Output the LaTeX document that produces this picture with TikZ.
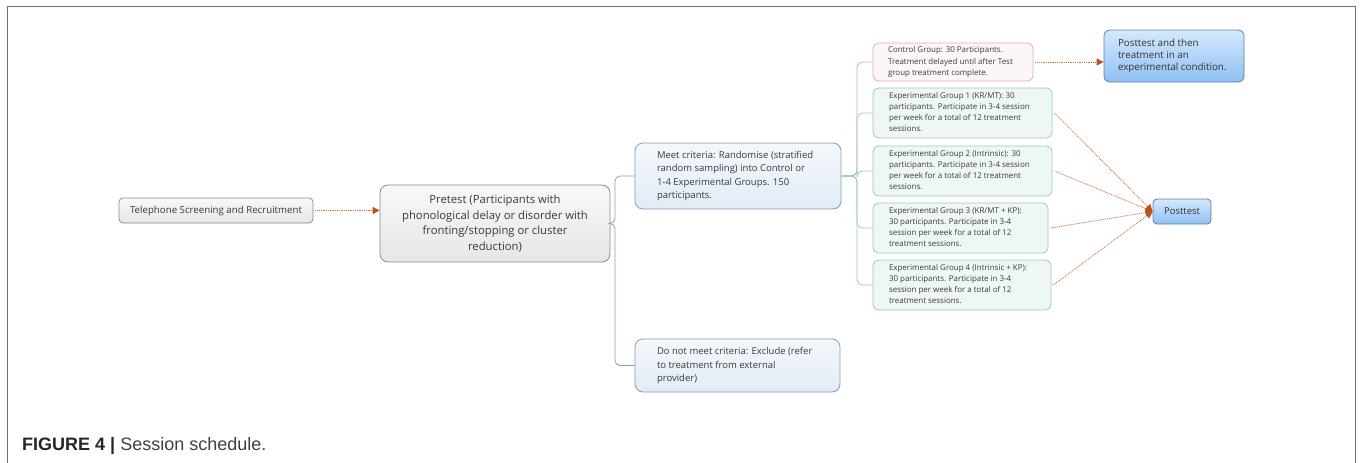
\documentclass[tikz,border=0pt]{standalone}
\usepackage{fontspec}
\setmainfont{Open Sans}
\newfontfamily\capfont{Liberation Sans}
\usetikzlibrary{arrows.meta}
\definecolor{txt}{HTML}{3A3A3A}
\definecolor{framec}{HTML}{707070}
\definecolor{grayd}{HTML}{8A8A8A}
\definecolor{grayt}{HTML}{F8F8F8}
\definecolor{grayb}{HTML}{E6E6E6}
\definecolor{bgd}{HTML}{7F9FBE}
\definecolor{bgt}{HTML}{F4F8FC}
\definecolor{bgb}{HTML}{E2EBF4}
\definecolor{pkd}{HTML}{E9A7B5}
\definecolor{pkf}{HTML}{FDF6F7}
\definecolor{gnd}{HTML}{9DCBB2}
\definecolor{gnf}{HTML}{EEF7F1}
\definecolor{ptd}{HTML}{5B7FA6}
\definecolor{ptt}{HTML}{D4E9FD}
\definecolor{ptb}{HTML}{8FC0F2}
\definecolor{arrc}{HTML}{C8703A}
\definecolor{tipc}{HTML}{C0501A}
\newcommand\boxtext[2]{\makebox[#1][l]{\begin{tabular}{@{}l@{}}#2\end{tabular}}}
\tikzset{
  base/.style={rectangle, inner xsep=0pt, inner ysep=0pt, text=txt, line width=0.8pt},
  graybox/.style={base, draw=grayd, top color=grayt, bottom color=grayb, align=center},
  bluebox/.style={base, draw=bgd, top color=bgt, bottom color=bgb, rounded corners=8pt,
    font=\fontsize{9.5}{13.5}\selectfont},
  pinkbox/.style={base, draw=pkd, fill=pkf, rounded corners=6pt, font=\fontsize{7.95}{11.3}\selectfont},
  greenbox/.style={base, draw=gnd, fill=gnf, rounded corners=6pt, font=\fontsize{7.95}{11}\selectfont},
  postbox/.style={base, draw=ptd, top color=ptt, bottom color=ptb, rounded corners=6pt, text=black!80},
  tree/.style={draw=bgd, line width=0.8pt, rounded corners=5pt},
  treeg/.style={draw=gnd, line width=0.8pt, rounded corners=6pt},
  treep/.style={draw=pkd, line width=0.8pt, rounded corners=6pt},
  dotarrow/.style={draw=arrc, line width=0.8pt, dash pattern=on 0.9pt off 0.9pt,
    -{Triangle[length=7pt,width=7pt,fill=tipc,color=tipc]}},
}
\begin{document}
\begin{tikzpicture}[x=1pt,y=-1pt]
\useasboundingbox (0,0) rectangle (1360,463);
% frame
\draw[framec, line width=1.5pt] (7.5,463) -- (7.5,6.5) -- (1355.5,6.5) -- (1355.5,463);

% nodes
\node[graybox, rounded corners=4pt, minimum width=194pt, minimum height=25pt,
  font=\fontsize{9.7}{13}\selectfont] (tel) at (216,210.5) {Telephone Screening and Recruitment};
\node[graybox, rounded corners=8pt, minimum width=230pt, minimum height=77pt,
  font=\fontsize{11.3}{15.5}\selectfont] (pre) at (495,223.5)
  {Pretest (Participants with\\phonological delay or disorder with\\fronting/stopping or cluster\\reduction)};
\node[bluebox, minimum width=206pt, minimum height=66pt] (meet) at (738,176)
  {\boxtext{162pt}{Meet criteria: Randomise (stratified\\random sampling) into Control or\\1-4 Experimental Groups. 150\\participants.}};
\node[bluebox, minimum width=205pt, minimum height=53pt] (dn) at (737.5,365.5)
  {\boxtext{161pt}{Do not meet criteria: Exclude (refer\\to treatment from external\\provider)}};
\node[pinkbox, minimum width=160pt, minimum height=38pt] (ctrl) at (953,62)
  {\boxtext{130pt}{Control Group: 30 Participants.\\Treatment delayed until after Test\\group treatment complete.}};
\node[greenbox, minimum width=179pt, minimum height=50pt] (e1) at (962.5,113)
  {\boxtext{147pt}{Experimental Group 1 (KR/MT): 30\\participants. Participate in 3-4 session\\per week for a total of 12 treatment\\sessions.}};
\node[greenbox, minimum width=179pt, minimum height=50pt] (e2) at (962.5,171)
  {\boxtext{147pt}{Experimental Group 2 (Intrinsic): 30\\participants. Participate in 3-4 session\\per week for a total of 12 treatment\\sessions.}};
\node[greenbox, minimum width=175pt, minimum height=50pt] (e3) at (960.5,228)
  {\boxtext{143pt}{Experimental Group 3 (KR/MT + KP):\\30 participants. Participate in 3-4\\session per week for a total of 12\\treatment sessions.}};
\node[greenbox, minimum width=178pt, minimum height=50pt] (e4) at (962,285)
  {\boxtext{146pt}{Experimental Group 4 (Intrinsic + KP):\\30 participants. Participate in 3-4\\session per week for a total of 12\\treatment sessions.}};
\node[postbox, minimum width=140pt, minimum height=52pt, font=\fontsize{9.8}{12.3}\selectfont] (pt1) at (1174,56)
  {\boxtext{112pt}{Posttest and then\\treatment in an\\experimental condition.}};
\node[postbox, rounded corners=4pt, minimum width=58pt, minimum height=25pt, font=\fontsize{9.5}{12}\selectfont] (pt2) at (1182,211.5) {Posttest};

% tree connectors
\coordinate (j1) at (615,223.5);
\draw[tree] (pre.east) -- (j1) |- (meet.west);
\draw[tree] (pre.east) -- (j1) |- (dn.west);
\coordinate (j2) at (857,176);
\draw[treep] (meet.east) -- (j2) |- (ctrl.west);
\draw[treeg] (meet.east) -- (j2) |- (e1.west);
\draw[treeg] (meet.east) -- (j2) |- (e2.west);
\draw[treeg] (meet.east) -- (j2) |- (e3.west);
\draw[treeg] (meet.east) -- (j2) |- (e4.west);

% dotted arrows
\draw[dotarrow] ([xshift=2pt]tel.east) -- (tel.east -| pre.west);
\draw[dotarrow] ([xshift=2pt]ctrl.east) -- (ctrl.east -| pt1.west);
\draw[dotarrow] ([xshift=2pt]e1.east) -- (pt2.west);
\draw[dotarrow] ([xshift=2pt]e2.east) -- (pt2.west);
\draw[dotarrow] ([xshift=2pt]e3.east) -- (pt2.west);
\draw[dotarrow] ([xshift=2pt]e4.east) -- (pt2.west);

% caption
\node[anchor=base west, inner sep=0pt, font=\capfont\fontsize{18}{20}\selectfont, text=black!75] (cap) at (22,450)
  {{\bfseries\color{black!85}FIGURE 4 |} Session schedule.};
\end{tikzpicture}
\end{document}
